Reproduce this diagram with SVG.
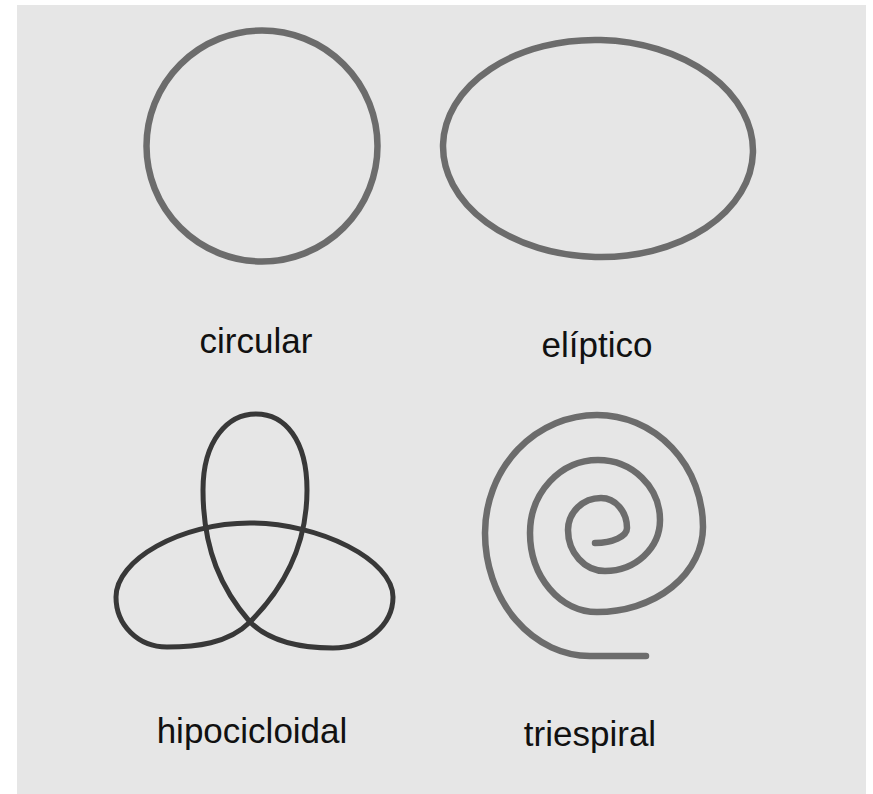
<svg xmlns="http://www.w3.org/2000/svg" width="873" height="794" viewBox="0 0 873 794">
<style>
.shape{fill:none;stroke-linecap:round;stroke-linejoin:round}
.light{stroke:#6c6c6c;stroke-width:6.5}
.dark{stroke:#383838;stroke-width:5}
.lbl{font-family:"Liberation Sans",Arial,sans-serif;font-size:35px;fill:#111;text-anchor:middle}
</style>
<rect x="0" y="0" width="873" height="794" fill="#ffffff"/>
<rect x="17" y="5" width="849" height="789" fill="#e6e6e6"/>
<g id="circular">
<circle class="shape light" cx="262" cy="146" r="115.5"/>
<text class="lbl" x="256" y="353">circular</text>
</g>
<g id="eliptico">
<ellipse class="shape light" cx="598" cy="148.5" rx="155" ry="108.5" transform="rotate(1.5 598 148.5)"/>
<text class="lbl" x="597" y="357">elíptico</text>
</g>
<g id="hipocicloidal">
<path class="shape dark" d="M250,622 C222,590 203,550 203,490 C203,440 228,414 256,414 C285,414 307,440 307,490 C307,550 280,592 250,622 Z"/>
<path class="shape dark" d="M250,622 C228,644 195,647 167,647 C138,647 116,625 116,597 C116,560 180,523 250,523 C320,523 393,560 393,597 C393,625 366,648 333,648 C305,648 272,644 250,622 Z"/>
<text class="lbl" x="252" y="743">hipocicloidal</text>
</g>
<g id="triespiral">
<path class="shape light" d="M595,543 A32,15 0 0 0 627,528 A26,30 0 0 0 601,498 A33,32 0 0 0 568,530 A37,41 0 0 0 605,571 A55,51 0 0 0 660,520 A62,60 0 0 0 598,460 A68,73 0 0 0 530,533 A67,79 0 0 0 597,612 A106,85 0 0 0 703,527 A106,112 0 0 0 597,415 A112,118 0 0 0 485,533 A105,123 0 0 0 590,656 L646,656"/>
<text class="lbl" x="590" y="746">triespiral</text>
</g>
<g id="connectors"/>
</svg>
